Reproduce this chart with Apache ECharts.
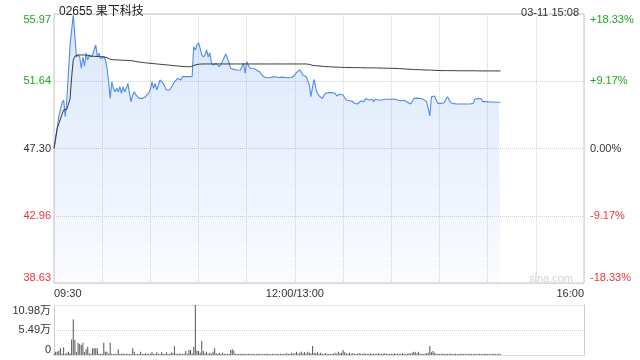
<!DOCTYPE html>
<html><head><meta charset="utf-8">
<script src="https://cdn.jsdelivr.net/npm/echarts@6/dist/echarts.min.js"></script>
<style>html,body{margin:0;padding:0;background:#fff}#c{width:640px;height:360px}</style>
</head><body><div id="c"></div>
<script>
const stockTitle = '02655 果下科技';
const timeStamp = '03-11 15:08';
const watermark = 'sina.com';
const prevClose = 47.30;
// minute index 0 = 09:30 ; 150 = 12:00/13:00 ; 330 = 16:00
const timeTickPos = [0, 150, 330];
const timeTickText = ['09:30', '12:00/13:00', '16:00'];
const priceTicks = ['38.63', '42.96', '47.30', '51.64', '55.97'];
const pctTicks = ['-18.33%', '-9.17%', '0.00%', '+9.17%', '+18.33%'];
const volTicks = ['0', '5.49万', '10.98万'];

const price = [
47.30,47.85,48.60,49.35,49.46,50.23,50.43,49.35,50.43,50.55,
53.97,53.97,55.90,54.50,53.20,53.33,53.20,52.47,53.20,52.60,
53.45,53.00,53.33,53.20,53.33,53.65,53.97,53.20,53.45,53.10,
53.20,53.20,53.00,52.47,51.60,50.53,51.60,51.18,50.96,51.18,
50.96,51.28,50.86,51.28,50.96,51.18,51.50,50.86,50.32,50.75,
50.96,50.75,50.86,50.53,50.53,50.53,50.53,50.64,50.75,50.89,
51.10,51.60,51.18,51.50,51.07,51.39,51.72,51.82,51.50,51.28,
51.07,51.18,51.07,51.18,51.39,51.60,51.72,51.82,51.93,51.72,
51.93,51.82,51.93,51.93,51.93,51.93,51.93,53.86,53.65,53.97,
54.12,53.76,53.33,53.20,53.33,53.65,53.20,53.48,52.83,52.68,
52.79,52.79,52.72,52.57,52.75,52.96,53.18,53.39,53.11,52.83,
52.47,52.42,52.40,52.38,52.36,52.36,52.34,52.25,52.79,52.15,
52.90,52.68,52.47,52.47,52.47,52.42,52.36,52.30,52.25,52.15,
51.97,51.93,51.86,51.86,51.86,51.88,51.90,51.93,51.93,51.90,
51.88,51.86,51.90,51.93,51.88,51.86,51.86,51.86,51.88,51.93,
52.04,52.21,52.30,52.36,52.22,52.04,51.93,51.93,51.86,51.39,
50.64,51.28,51.76,51.18,50.86,50.70,50.64,50.53,50.57,50.86,
50.94,50.90,50.90,50.90,50.86,50.86,50.68,50.75,50.81,50.90,
50.75,50.57,50.43,50.38,50.38,50.36,50.34,50.21,50.32,50.17,
50.25,50.36,50.34,50.32,50.53,50.50,50.43,50.53,50.47,50.32,
50.47,50.47,50.43,50.32,50.43,50.47,50.47,50.47,50.47,50.47,
50.47,50.47,50.49,50.51,50.43,50.32,50.38,50.43,50.41,50.36,
50.28,50.19,50.17,50.32,50.53,50.57,50.55,50.53,50.52,50.51,
50.47,50.43,50.32,49.89,49.40,50.64,50.75,50.68,50.43,50.21,
50.21,50.21,50.21,50.25,50.47,50.64,50.53,50.25,50.21,50.19,
50.17,50.17,50.17,50.17,50.17,50.17,50.17,50.17,50.17,50.17,
50.17,50.21,50.47,50.53,50.53,50.53,50.51,50.32,50.25,50.32,
50.32,50.30,50.30,50.30,50.30,50.28,50.28,50.28,50.28
];

const avgPrice = [
47.30,48.00,48.60,48.90,49.20,49.50,49.78,49.80,49.83,49.90,
50.50,51.90,53.00,53.25,53.30,53.33,53.33,53.33,53.33,53.33,
53.33,53.30,53.28,53.26,53.25,53.24,53.24,53.23,53.23,53.22,
53.22,53.22,53.20,53.15,53.10,53.05,53.03,53.02,53.02,53.01,
53.01,53.00,53.00,52.99,52.99,52.98,52.98,52.97,52.96,52.95,
52.93,52.91,52.88,52.87,52.86,52.85,52.83,52.82,52.81,52.80,
52.79,52.78,52.77,52.76,52.75,52.74,52.73,52.72,52.71,52.70,
52.69,52.68,52.67,52.66,52.65,52.64,52.63,52.62,52.61,52.60,
52.59,52.58,52.57,52.57,52.57,52.57,52.60,52.65,52.70,52.72,
52.73,52.74,52.75,52.75,52.75,52.75,52.75,52.75,52.75,52.75,
52.75,52.75,52.75,52.75,52.75,52.75,52.75,52.75,52.75,52.75,
52.75,52.75,52.75,52.75,52.75,52.75,52.75,52.75,52.75,52.75,
52.75,52.75,52.75,52.75,52.75,52.75,52.75,52.75,52.75,52.75,
52.75,52.75,52.75,52.75,52.75,52.75,52.75,52.75,52.75,52.75,
52.75,52.75,52.75,52.75,52.75,52.75,52.75,52.75,52.75,52.75,
52.75,52.75,52.75,52.75,52.75,52.75,52.75,52.75,52.74,52.72,
52.67,52.66,52.65,52.64,52.63,52.62,52.61,52.60,52.59,52.58,
52.57,52.57,52.56,52.56,52.55,52.55,52.54,52.54,52.54,52.53,
52.53,52.53,52.53,52.52,52.52,52.52,52.52,52.51,52.51,52.51,
52.51,52.51,52.50,52.50,52.50,52.50,52.50,52.50,52.50,52.50,
52.50,52.49,52.49,52.49,52.49,52.48,52.48,52.48,52.48,52.47,
52.47,52.47,52.46,52.46,52.45,52.45,52.44,52.44,52.43,52.42,
52.41,52.41,52.40,52.40,52.39,52.39,52.38,52.38,52.37,52.37,
52.36,52.36,52.36,52.36,52.35,52.35,52.34,52.34,52.33,52.33,
52.32,52.32,52.32,52.32,52.32,52.32,52.32,52.32,52.32,52.32,
52.31,52.31,52.31,52.31,52.31,52.31,52.31,52.31,52.31,52.31,
52.31,52.31,52.31,52.31,52.31,52.30,52.30,52.30,52.30,52.30,
52.30,52.30,52.30,52.30,52.30,52.30,52.30,52.30,52.30
];

// volume in 万 shares per minute
const volume = [
0.2,0.73,0.73,0.95,1.47,0.3,1.7,0.3,0.5,0.73,
0.4,3.4,7.85,3.3,0.6,2.7,2.4,2.2,2.7,0.6,
1.25,1.8,0.4,0.3,1.47,1.47,1.47,1.47,0.3,0.2,
0.3,2.7,0.73,0.73,0.3,2.7,0.3,0.2,0.3,0.2,
1.25,0.3,0.2,0.4,0.2,0.3,0.2,0.3,0.2,1.47,
0.73,0.2,0.3,0.2,0.73,0.2,0.3,0.4,0.3,0.2,
0.3,0.73,0.3,0.2,0.6,0.3,0.2,0.6,0.3,0.2,
0.6,0.3,0.2,0.6,0.4,1.9,0.3,0.2,0.4,0.3,
0.2,0.3,0.9,0.3,1.1,1.1,0.4,1.8,10.98,0.95,
0.9,0.5,3.1,0.9,0.4,0.73,0.3,0.5,0.3,0.73,
1.47,0.4,0.3,0.5,0.2,0.5,0.3,0.2,0.3,0.2,
1.1,1.25,0.95,0.3,0.2,0.3,0.2,0.3,0.2,0.3,
0.2,0.3,0.2,0.2,0.3,0.2,0.2,0.3,0.2,0.2,
0.3,0.2,0.2,0.3,0.2,0.2,0.3,0.2,0.2,0.3,
0.2,0.3,0.2,0.2,0.3,0.4,0.2,0.3,0.5,0.3,
0.4,0.7,0.3,0.5,0.7,0.4,0.6,0.3,0.7,0.5,
0.4,2.0,0.5,0.4,0.6,0.3,0.5,0.3,0.2,0.4,
0.3,0.2,0.3,0.2,0.3,0.5,0.3,0.7,0.4,0.5,
1.1,0.6,0.4,0.3,0.5,0.3,0.4,0.3,0.2,0.3,
0.4,0.3,0.2,0.4,0.3,0.3,0.2,0.4,0.3,0.3,
0.2,0.3,0.4,0.3,0.2,0.3,0.4,0.3,0.2,0.3,
0.3,0.2,0.4,0.3,0.3,0.2,0.3,0.4,0.3,0.2,
0.3,0.4,0.3,0.5,0.7,0.6,0.4,0.7,0.3,0.3,
0.2,0.3,0.4,0.5,2.0,0.6,0.9,0.5,0.3,0.3,
0.2,0.3,0.3,0.2,0.3,0.2,0.3,0.3,0.2,0.2,
0.3,0.2,0.2,0.3,0.2,0.2,0.3,0.2,0.2,0.3,
0.2,0.2,0.3,0.2,0.2,0.3,0.2,0.2,0.3,0.2,
0.2,0.3,0.2,0.2,0.3,0.2,0.2,0.3,0.2
];

const FONT = '"Liberation Sans", Arial, "Noto Sans CJK SC", sans-serif';
const GREEN = '#1ea51e', RED = '#f23333', DARK = '#333333';
const PMIN = -18.33, PMAX = 18.33, PINT = 9.165;
const tickIdx = v => Math.round((v - PMIN) / PINT);
const tickColor = v => { const i = tickIdx(v); return i < 2 ? RED : (i === 2 ? DARK : GREEN); };

const pctData = price.map((p, i) => [i, (p / prevClose - 1) * 100]);
const avgData = avgPrice.map((p, i) => [i, (p / prevClose - 1) * 100]);
const volData = volume.map((v, i) => [i, v]);

const chart = echarts.init(document.getElementById('c'));
chart.setOption({
  animation: false,
  textStyle: { fontFamily: FONT },
  title: [
    { text: stockTitle, left: 54, top: 1, textStyle: { fontSize: 12, fontWeight: 'normal', color: '#222', fontFamily: FONT } },
    { text: timeStamp, right: 56, top: 2, textStyle: { fontSize: 11, fontWeight: 'normal', color: '#333', fontFamily: FONT } }
  ],
  graphic: [
    { type: 'text', right: 67, top: 273, style: { text: watermark, fill: '#d2d2d2', font: '11px ' + FONT } }
  ],
  grid: [
    { left: 54, top: 14, width: 530, height: 269, show: true, borderColor: '#c8c8c8', borderWidth: 1, backgroundColor: 'transparent' },
    { left: 54, top: 305, width: 530, height: 50 }
  ],
  xAxis: [
    { type: 'value', gridIndex: 0, min: 0, max: 330, interval: 30,
      axisLine: { show: false }, axisTick: { show: false },
      splitLine: { show: true, lineStyle: { type: 'dotted', color: '#d4d4d4' } },
      axisLabel: { margin: 5, fontSize: 11, color: '#333', fontFamily: FONT,
        alignMinLabel: 'left', alignMaxLabel: 'right',
        formatter: v => { const k = timeTickPos.indexOf(Math.round(v)); return k >= 0 ? timeTickText[k] : ''; } } },
    { type: 'value', gridIndex: 1, min: 0, max: 330, interval: 30,
      axisLine: { show: true, lineStyle: { color: '#dddddd' } }, axisTick: { show: false },
      axisLabel: { show: false }, splitLine: { show: false } }
  ],
  yAxis: [
    { type: 'value', gridIndex: 0, min: PMIN, max: PMAX, interval: PINT,
      axisLine: { show: false }, axisTick: { show: false },
      splitLine: { show: true, lineStyle: { type: 'dotted', color: '#cfcfcf' } },
      axisLabel: { margin: 3, fontSize: 11, fontFamily: FONT,
        verticalAlignMinLabel: 'bottom', verticalAlignMaxLabel: 'top',
        color: v => tickColor(v), formatter: v => priceTicks[tickIdx(v)] } },
    { type: 'value', gridIndex: 0, position: 'right', min: PMIN, max: PMAX, interval: PINT,
      axisLine: { show: false }, axisTick: { show: false }, splitLine: { show: false },
      axisLabel: { margin: 6, fontSize: 11, fontFamily: FONT,
        verticalAlignMinLabel: 'bottom', verticalAlignMaxLabel: 'top',
        color: v => tickColor(v), formatter: v => pctTicks[tickIdx(v)] } },
    { type: 'value', gridIndex: 1, min: 0, max: 10.98, interval: 5.49,
      axisLine: { show: true, lineStyle: { color: '#cccccc' } }, axisTick: { show: false },
      splitLine: { show: true, lineStyle: { type: 'dotted', color: '#cfcfcf' } },
      axisLabel: { margin: 3, fontSize: 11, color: '#333', fontFamily: FONT,
        verticalAlignMinLabel: 'bottom', verticalAlignMaxLabel: 'top',
        formatter: v => volTicks[Math.round(v / 5.49)] } },
    { type: 'value', gridIndex: 1, position: 'right', min: 0, max: 10.98, interval: 5.49,
      axisLine: { show: true, lineStyle: { color: '#cccccc' } }, axisTick: { show: false },
      splitLine: { show: false }, axisLabel: { show: false } }
  ],
  series: [
    { type: 'line', xAxisIndex: 0, yAxisIndex: 0, data: pctData, symbol: 'none',
      lineStyle: { color: '#4f8bec', width: 1.1 },
      areaStyle: { origin: 'start', color: new echarts.graphic.LinearGradient(0, 0, 0, 1, [
        { offset: 0, color: 'rgba(80,140,236,0.30)' }, { offset: 1, color: 'rgba(80,140,236,0.04)' }]) },
      z: 3 },
    { type: 'line', xAxisIndex: 0, yAxisIndex: 0, data: avgData, symbol: 'none',
      lineStyle: { color: '#3a3a3a', width: 1 }, z: 4 },
    { type: 'bar', xAxisIndex: 1, yAxisIndex: 2, data: volData, barWidth: 1,
      itemStyle: { color: '#555555' } }
  ]
});
</script>
</body></html>
